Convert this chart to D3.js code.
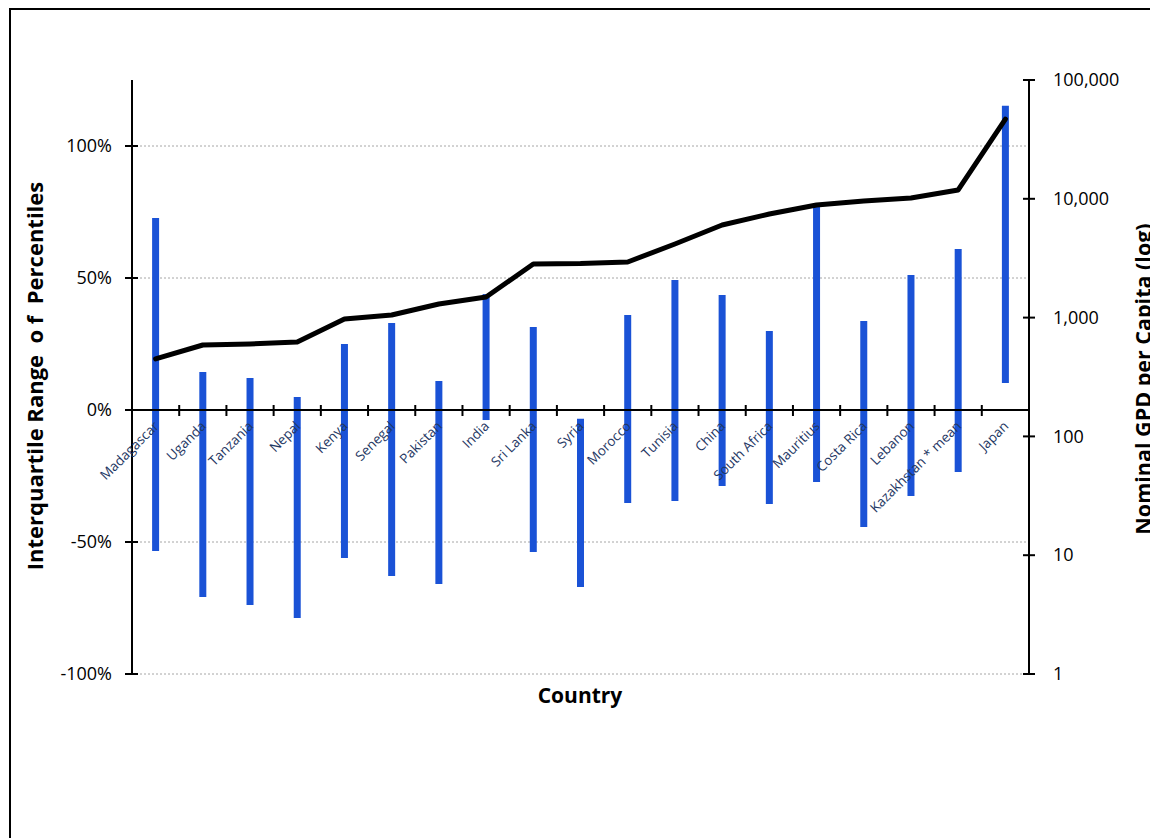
<!DOCTYPE html>
<html>
<head>
<meta charset="utf-8">
<script src="https://cdn.jsdelivr.net/npm/d3@7"></script>
<style>
  html, body { margin: 0; padding: 0; background: #fff; }
  svg { display: block; font-family: "Open Sans", sans-serif; }
</style>
</head>
<body>
<svg id="chart" width="1150" height="838"></svg>
<script>
// Countries, ordered by nominal GDP per capita
const countries = ["Madagascar", "Uganda", "Tanzania", "Nepal", "Kenya", "Senegal", "Pakistan",
  "India", "Sri Lanka", "Syria", "Morocco", "Tunisia", "China", "South Africa", "Mauritius",
  "Costa Rica", "Lebanon", "Kazakhstan * mean", "Japan"];

// Interquartile range of percentiles: upper and lower ends of each bar
const iqrHigh = [0.727, 0.144, 0.121, 0.049, 0.250, 0.330, 0.110, 0.439, 0.314, -0.033,
  0.360, 0.492, 0.436, 0.299, 0.777, 0.337, 0.511, 0.610, 1.152];
const iqrLow = [-0.534, -0.708, -0.739, -0.788, -0.561, -0.629, -0.659, -0.038, -0.538, -0.670,
  -0.352, -0.345, -0.288, -0.356, -0.273, -0.443, -0.326, -0.235, 0.102];

// Nominal GDP per capita (log axis)
const gdpPerCapita = [449, 588, 600, 623, 973, 1052, 1301, 1490, 2823, 2850, 2938, 4165,
  6017, 7446, 8869, 9574, 10158, 11863, 46950];

// Axis ticks
const leftTicks = [-1, -0.5, 0, 0.5, 1];
const rightTicks = [1, 10, 100, 1000, 10000, 100000];

const svg = d3.select("#chart");

const plotLeft = 132, plotRight = 1029, plotTop = 80, plotBottom = 674;

// Outer frame
svg.append("rect")
  .attr("x", 10).attr("y", 9).attr("width", 1300).attr("height", 1000)
  .attr("fill", "none").attr("stroke", "#000").attr("stroke-width", 2);

const x = d3.scaleBand().domain(countries).range([plotLeft, plotRight]).paddingInner(0).paddingOuter(0);
const yL = d3.scaleLinear().domain([-1, 1.25]).range([plotBottom, plotTop]);
const yR = d3.scaleLog().domain([1, 100000]).range([plotBottom, plotTop]);

// Dotted horizontal gridlines
svg.append("g")
  .selectAll("line")
  .data(leftTicks.filter(d => d !== 0))
  .join("line")
  .attr("x1", plotLeft).attr("x2", plotRight)
  .attr("y1", d => yL(d)).attr("y2", d => yL(d))
  .attr("stroke", "#a6a6a6").attr("stroke-width", 1)
  .attr("stroke-dasharray", "2,2");

// IQR bars
svg.append("g")
  .selectAll("line")
  .data(countries)
  .join("line")
  .attr("x1", d => x(d) + x.bandwidth() / 2)
  .attr("x2", d => x(d) + x.bandwidth() / 2)
  .attr("y1", (d, i) => yL(iqrHigh[i]))
  .attr("y2", (d, i) => yL(iqrLow[i]))
  .attr("stroke", "#1a52d6").attr("stroke-width", 7);

// Percent labels with a plain hyphen for negatives
const pct = d => `${d < 0 ? "-" : ""}${Math.round(Math.abs(d) * 100)}%`;

// Left axis
const leftAxis = d3.axisLeft(yL).tickValues(leftTicks)
  .tickFormat(pct).tickSize(0).tickPadding(20);
const gL = svg.append("g").attr("transform", `translate(${plotLeft},0)`).call(leftAxis);
gL.select(".domain").remove();
gL.selectAll("text").attr("font-size", 18).attr("fill", "#000")
  .attr("font-family", "Open Sans, sans-serif");
svg.append("line").attr("x1", plotLeft).attr("x2", plotLeft).attr("y1", plotTop).attr("y2", plotBottom + 1)
  .attr("stroke", "#000").attr("stroke-width", 2);
svg.append("g").selectAll("line").data(leftTicks).join("line")
  .attr("x1", plotLeft - 7).attr("x2", plotLeft + 6)
  .attr("y1", d => yL(d)).attr("y2", d => yL(d))
  .attr("stroke", "#000").attr("stroke-width", 2);

// Right axis
const rightAxis = d3.axisRight(yR).tickValues(rightTicks)
  .tickFormat(d3.format(",")).tickSize(0).tickPadding(24);
const gR = svg.append("g").attr("transform", `translate(${plotRight},0)`).call(rightAxis);
gR.select(".domain").remove();
gR.selectAll("text").attr("font-size", 18).attr("fill", "#000")
  .attr("font-family", "Open Sans, sans-serif");
svg.append("line").attr("x1", plotRight).attr("x2", plotRight).attr("y1", plotTop).attr("y2", plotBottom + 1)
  .attr("stroke", "#000").attr("stroke-width", 2);
svg.append("g").selectAll("line").data(rightTicks).join("line")
  .attr("x1", plotRight - 6).attr("x2", plotRight + 6)
  .attr("y1", d => yR(d)).attr("y2", d => yR(d))
  .attr("stroke", "#000").attr("stroke-width", 2);

// Category axis crossing at 0%
const y0 = yL(0);
svg.append("line").attr("x1", plotLeft).attr("x2", plotRight).attr("y1", y0).attr("y2", y0)
  .attr("stroke", "#000").attr("stroke-width", 2);
svg.append("g").selectAll("line").data(countries.slice(1)).join("line")
  .attr("x1", d => x(d)).attr("x2", d => x(d))
  .attr("y1", y0 - 5).attr("y2", y0 + 6)
  .attr("stroke", "#000").attr("stroke-width", 2);

// Category labels, rotated
svg.append("g").selectAll("text").data(countries).join("text")
  .attr("transform", d => `translate(${x(d) + x.bandwidth() / 2 + 4},${y0 + 17}) rotate(-45)`)
  .attr("text-anchor", "end")
  .attr("font-size", 13.5)
  .attr("fill", "#1f3864")
  .style("white-space", "pre")
  .text(d => d);

// GDP per capita line
const line = d3.line()
  .x((d, i) => x(countries[i]) + x.bandwidth() / 2)
  .y(d => yR(d));
svg.append("path")
  .datum(gdpPerCapita)
  .attr("d", line)
  .attr("fill", "none").attr("stroke", "#000").attr("stroke-width", 5)
  .attr("stroke-linejoin", "round").attr("stroke-linecap", "round");

// Axis titles
svg.append("text")
  .attr("transform", "translate(43,376) rotate(-90)")
  .attr("text-anchor", "middle")
  .attr("font-size", 22).attr("font-weight", "bold")
  .style("white-space", "pre")
  .text("Interquartile Range  o f  Percentiles");

svg.append("text")
  .attr("transform", "translate(1151,379) rotate(-90)")
  .attr("text-anchor", "middle")
  .attr("font-size", 21.5).attr("font-weight", "bold")
  .text("Nominal GPD per Capita (log)");

svg.append("text")
  .attr("x", 580).attr("y", 703)
  .attr("text-anchor", "middle")
  .attr("font-size", 21).attr("font-weight", "bold")
  .text("Country");
</script>
</body>
</html>
